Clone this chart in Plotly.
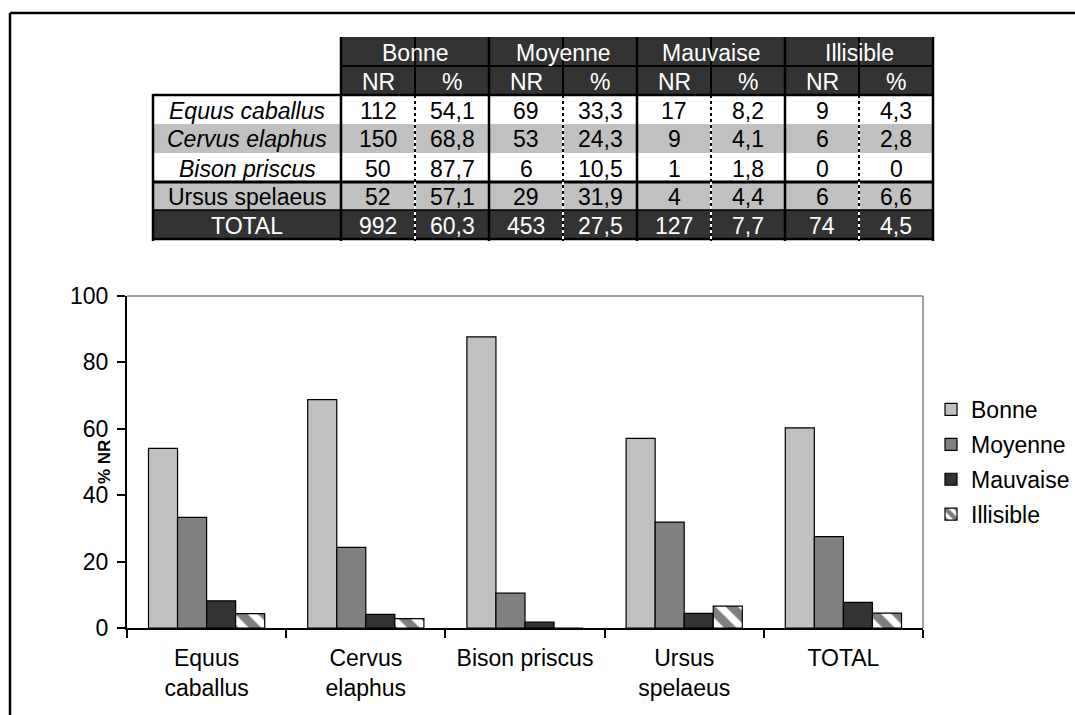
import plotly.graph_objects as go

# ---------------- data ----------------
species = ["Equus caballus", "Cervus elaphus", "Bison priscus", "Ursus spelaeus", "TOTAL"]
species_italic = [True, True, True, False, False]
bar_labels = ["Equus<br>caballus", "Cervus<br>elaphus", "Bison priscus", "Ursus<br>spelaeus", "TOTAL"]
groups = ["Bonne", "Moyenne", "Mauvaise", "Illisible"]
sub_headers = ["NR", "%"]

nr_bonne = [112, 150, 50, 52, 992]
pct_bonne = [54.1, 68.8, 87.7, 57.1, 60.3]
nr_moyenne = [69, 53, 6, 29, 453]
pct_moyenne = [33.3, 24.3, 10.5, 31.9, 27.5]
nr_mauvaise = [17, 9, 1, 4, 127]
pct_mauvaise = [8.2, 4.1, 1.8, 4.4, 7.7]
nr_illisible = [9, 6, 0, 6, 74]
pct_illisible = [4.3, 2.8, 0, 6.6, 4.5]

nr_all = [nr_bonne, nr_moyenne, nr_mauvaise, nr_illisible]
pct_all = [pct_bonne, pct_moyenne, pct_mauvaise, pct_illisible]

# ---------------- styles ----------------
W, H = 1075, 715
FONT = "Liberation Sans, Arial, sans-serif"
FS = 23
bar_colors = ["#C0C0C0", "#808080", "#333333", "#FFFFFF"]
row_fills = ["#FFFFFF", "#C0C0C0", "#FFFFFF", "#C0C0C0", "#333333"]
row_text = ["black", "black", "black", "black", "white"]
DARK = "#333333"


def px(x):
    return x / W


def py(y):
    return 1 - y / H


def fmt(v):
    if float(v).is_integer():
        return str(int(v))
    return f"{v:.1f}".replace(".", ",")


fig = go.Figure()

for i, g in enumerate(groups):
    marker = dict(color=bar_colors[i], line=dict(color="black", width=1.2))
    if g == "Illisible":
        marker["pattern"] = dict(shape="\\", fgcolor="black", bgcolor="white",
                                 size=16, solidity=0.55)
    fig.add_trace(go.Bar(x=bar_labels, y=pct_all[i], name=g, marker=marker,
                         legendgroup=g))

# ---------------- table grid (layout) ----------------
label_x0, label_x1 = 153, 341
col_w = 74
col_edges = [label_x1 + k * col_w for k in range(9)]
row_edges = [37, 66, 95, 124, 153, 182, 210, 239]

shapes = []
annotations = []


def rect(x0, y0, x1, y1, fill):
    shapes.append(dict(type="rect", xref="paper", yref="paper", x0=px(x0), x1=px(x1),
                       y0=py(y1), y1=py(y0), fillcolor=fill, line=dict(width=0),
                       layer="above"))


def line(x0, y0, x1, y1, color="black", width=2, dash="solid"):
    shapes.append(dict(type="line", xref="paper", yref="paper", x0=px(x0), x1=px(x1),
                       y0=py(y0), y1=py(y1), line=dict(color=color, width=width, dash=dash),
                       layer="above"))


def text(x, y, s, color="black", size=FS):
    annotations.append(dict(x=px(x), y=py(y), xref="paper", yref="paper", text=s,
                            showarrow=False, xanchor="center", yanchor="middle",
                            font=dict(family=FONT, size=size, color=color)))


# header fills
rect(col_edges[0], row_edges[0], col_edges[-1], row_edges[2], DARK)
# data row fills
for r in range(len(species)):
    rect(label_x0, row_edges[2 + r], col_edges[-1], row_edges[3 + r], row_fills[r])

# header texts
for gi, g in enumerate(groups):
    xa, xb = col_edges[2 * gi], col_edges[2 * gi + 2]
    text((xa + xb) / 2, (row_edges[0] + row_edges[1]) / 2 + 1, g, "white")
    for si, s in enumerate(sub_headers):
        xa, xb = col_edges[2 * gi + si], col_edges[2 * gi + si + 1]
        text((xa + xb) / 2, (row_edges[1] + row_edges[2]) / 2 + 1, s, "white")

# data texts
for r, sp in enumerate(species):
    yc = (row_edges[2 + r] + row_edges[3 + r]) / 2 + 1
    lab = f"<i>{sp}</i>" if species_italic[r] else sp
    text((label_x0 + label_x1) / 2, yc, lab, row_text[r])
    for gi in range(len(groups)):
        for si, vals in enumerate([nr_all[gi], pct_all[gi]]):
            xa, xb = col_edges[2 * gi + si], col_edges[2 * gi + si + 1]
            text((xa + xb) / 2, yc, fmt(vals[r]), row_text[r])

# table lines
line(col_edges[0], row_edges[1], col_edges[-1], row_edges[1], "black", 2)
line(label_x0, row_edges[2], col_edges[-1], row_edges[2], "black", 2.5)
line(label_x0, row_edges[5], col_edges[-1], row_edges[5], "black", 3)
line(label_x0, row_edges[6], col_edges[-1], row_edges[6], "black", 1.5)
line(label_x0, row_edges[7], col_edges[-1], row_edges[7], "black", 2.5)
line(label_x0, row_edges[2] - 1, label_x0, row_edges[7] + 2, "black", 2.5)
for k, xe in enumerate(col_edges):
    if k % 2 == 0:
        line(xe, row_edges[0], xe, row_edges[7] + 2, "black", 2.5)
    else:
        line(xe, row_edges[0], xe, row_edges[2], "black", 2)
        line(xe, row_edges[2], xe, row_edges[7] + 2, "white", 2)
        line(xe, row_edges[2], xe, row_edges[7] + 2, "black", 2, "dot")

# plot frame extras (gray top/right)
shapes.append(dict(type="line", xref="x domain", yref="y domain", x0=0, x1=1, y0=1, y1=1,
                   line=dict(color="#808080", width=1.5)))
shapes.append(dict(type="line", xref="x domain", yref="y domain", x0=1, x1=1, y0=0, y1=1,
                   line=dict(color="#808080", width=1.5)))

# outer frame
line(10, 13, 10, H + 5, "black", 2.5)
line(10, 13, W + 5, 13, "black", 2.5)

# y title
annotations.append(dict(x=px(104), y=py(462), xref="paper", yref="paper",
                        xanchor="center", yanchor="middle",
                        text="<b>% NR</b>", showarrow=False, textangle=-90,
                        font=dict(family=FONT, size=17, color="black")))

fig.update_layout(
    width=W, height=H,
    margin=dict(l=0, r=0, t=0, b=0),
    paper_bgcolor="white", plot_bgcolor="white",
    font=dict(family=FONT, size=FS, color="black"),
    barmode="group", bargap=0.27, bargroupgap=0,
    shapes=shapes, annotations=annotations,
    showlegend=True,
    legend=dict(x=px(931), y=py(388), xanchor="left", yanchor="top",
                font=dict(family=FONT, size=FS), tracegroupgap=2,
                traceorder="grouped", itemwidth=30, bgcolor="rgba(0,0,0,0)"),
    xaxis=dict(domain=[px(127), px(923)], showline=True, linecolor="black", linewidth=2,
               ticks="outside", tickson="boundaries", ticklen=8, tickcolor="black",
               tickwidth=1.5, showgrid=False, automargin=False, ticklabelstandoff=8,
               tickfont=dict(family=FONT, size=FS)),
    yaxis=dict(domain=[py(628), py(296)], range=[0, 100], dtick=20, showline=True,
               linecolor="black", linewidth=2, ticks="outside", ticklen=8,
               tickcolor="black", tickwidth=1.5, showgrid=False, zeroline=False,
               automargin=False, ticklabelstandoff=4, tickfont=dict(family=FONT, size=FS)),
)

fig.write_html("out.html", config={"displayModeBar": False},
               post_script="document.body.style.margin='0';document.body.style.overflow='hidden';")
